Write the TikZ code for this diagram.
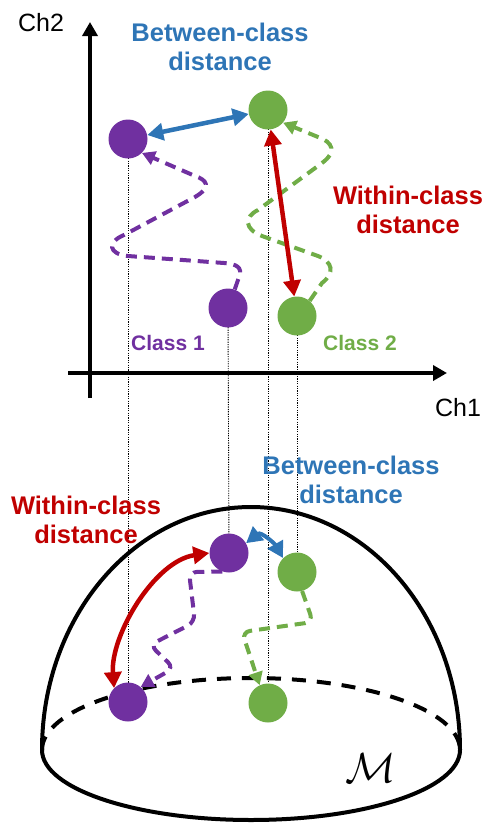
\documentclass[tikz,border=0pt]{standalone}
\usepackage{fontspec}
\setmainfont{Liberation Sans}
\usetikzlibrary{arrows.meta}
\definecolor{cpurple}{RGB}{112,48,160}
\definecolor{cgreen}{RGB}{112,173,71}
\definecolor{cblue}{RGB}{46,117,182}
\definecolor{cred}{RGB}{192,0,0}
\tikzset{
  ballP/.style={circle, fill=cpurple, minimum size=39pt, inner sep=0pt},
  ballG/.style={circle, fill=cgreen, minimum size=39pt, inner sep=0pt},
  proj/.style={black, line width=0.9pt, dash pattern=on 1.2pt off 1.2pt},
  axisline/.style={line width=4.5pt, -{Triangle[length=14pt,width=15pt]}},
  dist/.style={line width=4.5pt, {Triangle[length=16pt,width=17pt]}-{Triangle[length=16pt,width=17pt]}},
  walk/.style={line width=4pt, dash pattern=on 11pt off 7pt, -{Triangle[length=13pt,width=14pt]}},
  headlbl/.style={font=\fontsize{25.5}{29}\selectfont\bfseries, align=center, inner sep=0pt},
  classlbl/.style={font=\fontsize{21}{24}\selectfont\bfseries, inner sep=0pt},
  chlbl/.style={font=\fontsize{25}{28}\selectfont, inner sep=0pt},
  shell/.style={line width=4pt}
}
\begin{document}
\begin{tikzpicture}[x=1pt,y=-1pt]
\useasboundingbox (0,0) rectangle (486,830);

% manifold
\draw[shell] (42,750) arc[start angle=180, end angle=360, x radius=209, y radius=243];
\draw[shell] (42,750) arc[start angle=180, end angle=0, x radius=209, y radius=70];
\draw[shell, dash pattern=on 14pt off 11pt] (42,750) arc[start angle=180, end angle=360, x radius=209, y radius=72];

% points
\coordinate (pp1) at (128,139);
\coordinate (gg1) at (268,110);
\coordinate (pp2) at (228,308);
\coordinate (gg2) at (297,316);
\coordinate (qq1) at (229,553);
\coordinate (hh1) at (297,572);
\coordinate (qq2) at (128,702);
\coordinate (hh2) at (268,703);

% projection lines
\draw[proj] (pp1) -- (qq2);
\draw[proj] (pp2) -- (qq1);
\draw[proj] (gg1) -- (hh2);
\draw[proj] (gg2) -- (hh1);

% axes
\coordinate (yb) at (90,398);
\coordinate (yt) at (90,22);
\coordinate (xl) at (68,373);
\coordinate (xr) at (447,373);
\draw[axisline] (yb) -- (yt);
\draw[axisline] (xl) -- (xr);
\node[chlbl] (ch2) at (41,23) {Ch2};
\node[chlbl] (ch1) at (458,408) {Ch1};

% balls
\node[ballP] (p1) at (pp1) {};
\node[ballG] (g1) at (gg1) {};
\node[ballP] (p2) at (pp2) {};
\node[ballG] (g2) at (gg2) {};
\node[ballP] (q1) at (qq1) {};
\node[ballG] (h1) at (hh1) {};
\node[ballP] (q2) at (qq2) {};
\node[ballG] (h2) at (hh2) {};

% upper walks
\draw[walk, cpurple] (p2.70) -- (239,277) .. controls (243,267) and (236,264) .. (224,263)
  -- (128,256) .. controls (108,254) and (107,242) .. (124,235)
  -- (195,197) .. controls (212,187) and (207,180) .. (195,176) -- (p1.-45);
\draw[walk, cgreen] (g2.50) -- (322,283) .. controls (335,273) and (333,262) .. (318,256)
  -- (262,236) .. controls (244,229) and (244,217) .. (258,210)
  -- (322,163) .. controls (337,152) and (333,142) .. (318,137) -- (g1.-40);

% upper distances
\draw[dist, cblue] (p1) -- (g1);
\draw[dist, cred] (g1) -- (g2);

% lower walks
\draw[walk, cpurple, rounded corners=8pt] (q1.-110) -- (189,572) -- (195,622) -- (150,645) -- (174,668) -- (q2.50);
\draw[walk, cgreen, rounded corners=8pt] (h1.-75) -- (313,622) -- (242,632) -- (h2.115);

% lower distances
\draw[dist, cblue, line width=4pt] (q1.30) .. controls +(15,-12) and +(-8,-14) .. (h1.north west);
\draw[dist, cred] (q1.west) .. controls +(-55,8) and +(-4,-52) .. (q2.north west);

% labels
\node[headlbl, text=cblue] (btop) at (220,47) {Between-class\\distance};
\node[headlbl, text=cred] (wtop) at (408,210) {Within-class\\distance};
\node[classlbl, text=cpurple] (c1) at (168,343) {Class 1};
\node[classlbl, text=cgreen] (c2) at (360,343) {Class 2};
\node[headlbl, text=cred] (wlow) at (86,520) {Within-class\\distance};
\node[headlbl, text=cblue] (blow) at (351,480) {Between-class\\distance};
\node[inner sep=0pt] (mm) at (371,768) {\scalebox{4.2}{$\mathcal{M}$}};
\end{tikzpicture}
\end{document}
